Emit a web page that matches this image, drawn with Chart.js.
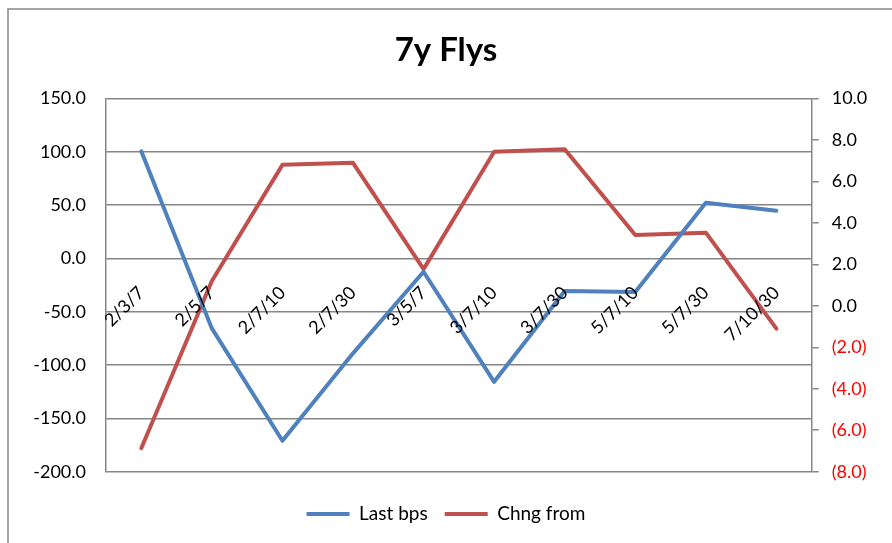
<!DOCTYPE html>
<html>
<head>
<meta charset="utf-8">
<title>7y Flys</title>
<script src="https://cdn.jsdelivr.net/npm/chart.js@4.4.1/dist/chart.umd.min.js"></script>
<style>
	html, body { margin: 0; padding: 0; background: #fff; }
	#wrap { position: relative; width: 892px; height: 543px; }
</style>
</head>
<body>
<div id="wrap"><canvas id="fly-chart"></canvas></div>
<script>
// ── Data ──────────────────────────────────────────────────────────────────
var categories = ["2/3/7", "2/5/7", "2/7/10", "2/7/30", "3/5/7", "3/7/10", "3/7/30", "5/7/10", "5/7/30", "7/10/30"];
var lastBps = [100.5, -65.6, -171, -89, -12.5, -115.7, -30.5, -31.5, 52.3, 44.8];
var chngFrom = [-6.87, 1.2, 6.8, 6.9, 1.77, 7.43, 7.55, 3.42, 3.53, -1.1];

var leftTicks = { min: -200, max: 150, step: 50 };
var rightTicks = { min: -8, max: 10, step: 2 };

var FONT = "Lato, 'Open Sans', sans-serif";
var GRID = "#868686";

// ── Chart frame (outer border, partly cropped) ─────────────────────────────
var framePlugin = {
	id: "frame",
	beforeDraw: function (chart) {
		var ctx = chart.ctx;
		ctx.save();
		ctx.strokeStyle = GRID;
		ctx.lineWidth = 1.5;
		ctx.beginPath();
		ctx.moveTo(8, chart.height);
		ctx.lineTo(8, 9);
		ctx.lineTo(chart.width, 9);
		ctx.stroke();
		ctx.restore();
	},
};

// ── Rotated category labels, sitting on the secondary zero line ────────────
var catLabelPlugin = {
	id: "catLabels",
	afterDatasetsDraw: function (chart) {
		var ctx = chart.ctx;
		var x = chart.scales.x;
		var y2 = chart.scales.y2;
		var baseY = y2.getPixelForValue(0) - 16;
		ctx.save();
		ctx.font = "18px " + FONT;
		ctx.fillStyle = "#000";
		ctx.textAlign = "right";
		ctx.textBaseline = "middle";
		categories.forEach(function (c, i) {
			ctx.save();
			ctx.translate(x.getPixelForValue(i), baseY);
			ctx.rotate(-Math.PI / 4);
			ctx.fillText(c, 0, 0);
			ctx.restore();
		});
		ctx.restore();
	},
};

new Chart(document.getElementById("fly-chart"), {
	type: "line",
	data: {
		labels: categories,
		datasets: [
			{
				label: "Last bps",
				data: lastBps,
				yAxisID: "y",
				borderColor: "#4f81bd",
				backgroundColor: "#4f81bd",
				borderWidth: 4,
				pointRadius: 0,
				tension: 0,
				borderCapStyle: "round",
				borderJoinStyle: "round",
			},
			{
				label: "Chng from",
				data: chngFrom,
				yAxisID: "y2",
				borderColor: "#c0504d",
				backgroundColor: "#c0504d",
				borderWidth: 4,
				pointRadius: 0,
				tension: 0,
				borderCapStyle: "round",
				borderJoinStyle: "round",
			},
		],
	},
	options: {
		responsive: true,
		maintainAspectRatio: false,
		animation: false,
		layout: { padding: { top: 0, left: 0, right: 0, bottom: 9.5 } },
		plugins: {
			title: {
				display: true,
				text: "7y Flys",
				color: "#000",
				font: { family: FONT, size: 33, weight: "bold", lineHeight: 1.2 },
				padding: { top: 30.2, bottom: 28.7 },
			},
			legend: {
				position: "bottom",
				labels: {
					color: "#000",
					font: { family: FONT, size: 19 },
					boxWidth: 43,
					boxHeight: 4,
					padding: 17,
					generateLabels: function (chart) {
						return Chart.defaults.plugins.legend.labels.generateLabels(chart).map(function (l) {
							l.lineWidth = 0;
							return l;
						});
					},
				},
			},
			tooltip: { enabled: false },
		},
		scales: {
			x: {
				offset: true,
				grid: { display: false },
				border: { display: false },
				ticks: { display: false },
				afterFit: function (s) { s.height = 15.8; },
			},
			y: {
				position: "left",
				min: leftTicks.min,
				max: leftTicks.max,
				ticks: {
					stepSize: leftTicks.step,
					color: "#000",
					padding: 20,
					font: { family: FONT, size: 18 },
					callback: function (v) { return v.toFixed(1); },
				},
				grid: { color: GRID, lineWidth: 1.5, drawTicks: false },
				border: { display: true, color: GRID, width: 1.5 },
				afterFit: function (s) { s.width = 106; },
			},
			y2: {
				position: "right",
				min: rightTicks.min,
				max: rightTicks.max,
				ticks: {
					stepSize: rightTicks.step,
					padding: 13,
					font: { family: FONT, size: 18 },
					color: function (c) { return c.tick && c.tick.value < 0 ? "#ff0000" : "#000"; },
					callback: function (v) {
						return v < 0 ? "(" + Math.abs(v).toFixed(1) + ")" : v.toFixed(1);
					},
				},
				grid: { drawOnChartArea: false, color: GRID, lineWidth: 1.5, tickLength: 7 },
				border: { display: true, color: GRID, width: 1.5 },
				afterFit: function (s) { s.width = 80.3; },
			},
		},
	},
	plugins: [framePlugin, catLabelPlugin],
});
</script>
</body>
</html>
